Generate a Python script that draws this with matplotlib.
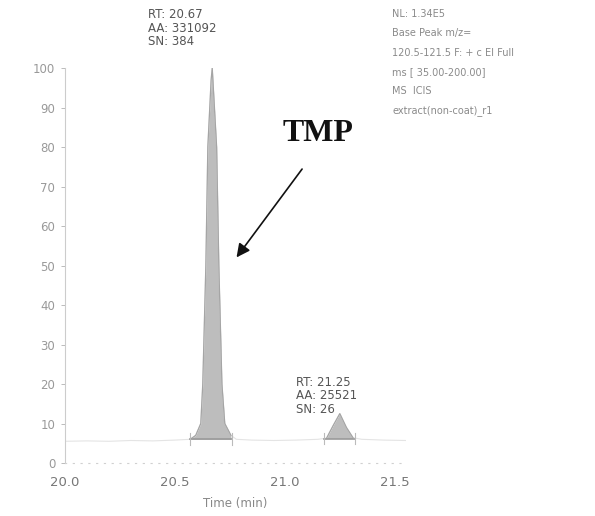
import matplotlib.pyplot as plt

# chromatogram trace (time in min, relative abundance %)
times = [20.00, 20.10, 20.20, 20.30, 20.40, 20.50, 20.57, 20.595, 20.618,
         20.627, 20.641, 20.65, 20.665, 20.67, 20.675, 20.69, 20.70, 20.714,
         20.727, 20.755, 20.78, 20.85, 20.95, 21.05, 21.15, 21.19, 21.22,
         21.25, 21.28, 21.31, 21.35, 21.45, 21.55]
abundance = [5.5, 5.6, 5.5, 5.7, 5.6, 5.8, 6.0, 7.0, 10.0,
             20.0, 50.0, 80.0, 97.0, 100.0, 95.0, 80.0, 50.0, 20.0,
             10.0, 7.0, 6.0, 5.8, 5.7, 5.8, 6.0, 6.3, 9.5,
             12.5, 9.0, 6.4, 6.0, 5.8, 5.7]

# integrated peaks: (start, end, baseline)
peaks = [(20.57, 20.76, 6.0), (21.18, 21.32, 6.2)]
peak_labels = ["RT: 20.67\nAA: 331092\nSN: 384",
               "RT: 21.25\nAA: 25521\nSN: 26"]
peak_rt = [20.67, 21.25]
peak_height = [100.0, 12.5]

header = ["NL: 1.34E5", "Base Peak m/z=", "120.5-121.5 F: + c EI Full",
          "ms [ 35.00-200.00]", "MS  ICIS", "extract(non-coat)_r1"]

fig = plt.figure(figsize=(5.95, 5.16), dpi=100)
ax = fig.add_axes([0.109, 0.1027, 0.573, 0.7653])

ax.plot(times, abundance, color="#e4e4e4", lw=0.8)
for start, end, base in peaks:
    seg_t = [t for t in times if start <= t <= end]
    seg_a = [a for t, a in zip(times, abundance) if start <= t <= end]
    ax.fill_between(seg_t, base, seg_a, color="#bdbdbd", lw=0)
    ax.plot(seg_t, seg_a, color="#a5a5a5", lw=0.9)
    ax.plot([start, end], [base, base], color="#9a9a9a", lw=1.2)
    ax.plot([start, start], [base - 1.5, base + 1.5], color="#bbbbbb", lw=0.8)
    ax.plot([end, end], [base - 1.5, base + 1.5], color="#bbbbbb", lw=0.8)

# labels sit left of the apex, just above it
label_shift = [-0.29, -0.20]
label_gap = [5.0, -0.5]
for text, rt, h, dx, dy in zip(peak_labels, peak_rt, peak_height,
                               label_shift, label_gap):
    ax.text(rt + dx, h + dy, text, fontsize=8.5, color="#555555",
            va="bottom", ha="left", linespacing=1.05, clip_on=False)

fig.text(0.659, 0.982, "\n".join(header), fontsize=7, color="#8a8a8a",
         va="top", ha="left", linespacing=2.15)

ax.text(21.15, 83.5, "TMP", family="Liberation Serif", fontweight="bold",
        fontsize=23, ha="center", va="center", color="#111111")
ax.annotate("", xy=(20.773, 51.5), xytext=(21.086, 75.0),
            arrowprops=dict(arrowstyle="-|>", color="#111111", lw=1.2,
                            mutation_scale=20))

ax.set_xlim(20.0, 21.55)
ax.set_ylim(0, 100)
ax.set_xticks([20.0, 20.5, 21.0, 21.5])
ax.set_xticklabels(["20.0", "20.5", "21.0", "21.5"])
ax.set_yticks(range(0, 101, 10))
ax.tick_params(axis="x", length=0, pad=9, labelsize=9.5, labelcolor="#777777")
ax.tick_params(axis="y", length=3, width=0.7, color="#bbbbbb", pad=4,
               labelsize=8.5, labelcolor="#999999")
ax.set_xlabel("Time (min)", fontsize=8.5, color="#888888", labelpad=6)

for side in ["top", "right"]:
    ax.spines[side].set_visible(False)
ax.spines["left"].set_color("#cccccc")
ax.spines["left"].set_linewidth(0.8)
ax.spines["bottom"].set_color("#d0d0d0")
ax.spines["bottom"].set_linestyle((0, (1, 6)))
ax.spines["bottom"].set_linewidth(0.8)

plt.savefig("out.png", dpi=100)
